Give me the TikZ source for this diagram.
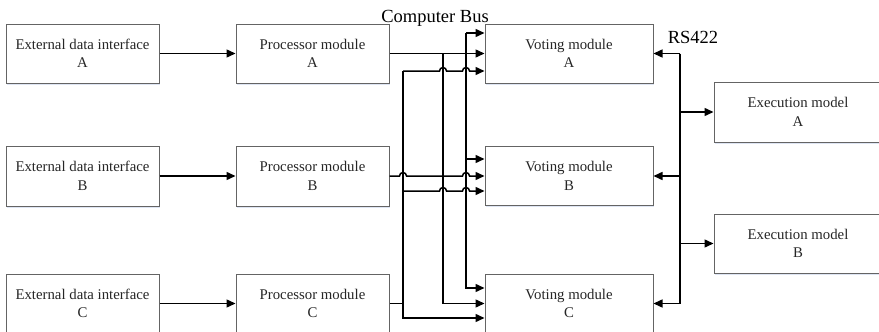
\documentclass[tikz,border=0pt]{standalone}
\usepackage{fontspec}
\setmainfont{Liberation Serif}
\usetikzlibrary{arrows.meta,calc,shadows}
\definecolor{boxgray}{RGB}{100,100,100}
\definecolor{shadowblue}{RGB}{200,212,235}
\begin{document}
\begin{tikzpicture}[x=1pt,y=-1pt,
  box/.style={draw=boxgray, line width=1pt, fill=white, minimum height=59pt, inner sep=0pt,
    align=center, font=\fontsize{14.8}{18.5}\selectfont, text=black!85,
    drop shadow={shadow xshift=1.2pt, shadow yshift=-1.6pt, fill=shadowblue, opacity=0.6}},
  conn/.style={line width=1.5pt, black},
  arr/.style={conn, -{Triangle[length=9pt,width=8pt]}},
  lbl/.style={font=\fontsize{18.5}{20}\selectfont, inner sep=0pt, anchor=base}]
\useasboundingbox (0,0) rectangle (879,332);

% boxes
\node[box, minimum width=153pt] (eA) at (82.5,53.5) {External data interface\\A};
\node[box, minimum width=153pt] (pA) at (312.5,53.5) {Processor module\\A};
\node[box, minimum width=168pt] (vA) at (569,53.5) {Voting module\\A};
\node[box, minimum width=153pt, minimum height=60pt] (eB) at (82.5,176) {External data interface\\B};
\node[box, minimum width=153pt, minimum height=60pt] (pB) at (312.5,176) {Processor module\\B};
\node[box, minimum width=168pt] (vB) at (569,176) {Voting module\\B};
\node[box, minimum width=153pt] (eC) at (82.5,303.5) {External data interface\\C};
\node[box, minimum width=153pt] (pC) at (312.5,303.5) {Processor module\\C};
\node[box, minimum width=168pt] (vC) at (569,303.5) {Voting module\\C};
\node[box, minimum width=168pt, minimum height=60pt] (xA) at (798,112) {Execution model\\A};
\node[box, minimum width=168pt] (xB) at (798,243.5) {Execution model\\B};

% labels
\node[lbl] (bus) at (435,22) {Computer Bus};
\node[lbl] (rs) at (693,43) {RS422};

% bus positions
\coordinate (xc) at (403,0);
\coordinate (xa) at (443,0);
\coordinate (xb) at (466,0);
\coordinate (xr) at (680,0);
\coordinate (yA1) at (0,33);
\coordinate (yA3) at (0,71);
\coordinate (yB1) at (0,159);
\coordinate (yB3) at (0,191);
\coordinate (yC1) at (0,288);
\coordinate (yC3) at (0,318);

% input connections
\draw[arr] (eA) -- (pA);
\draw[arr] (eB) -- (pB);
\draw[arr] (eC) -- (pC);

% bus xb
\draw[arr] (xb |- yA1) -- (vA.west |- yA1);
\draw[arr] (xb |- yA1) -- (xb |- yC1) -- (vC.west |- yC1);
\draw[arr] (xb |- yB1) -- (vB.west |- yB1);

% bus xa (processor A)
\draw[arr] (pA.east -| xa) -- (xa |- vC.west) -- (vC.west);

% bus xc (processor C)
\draw[conn] (pC.east) -- (pC.east -| xc);
\draw[arr] (xc |- yA3) -- (xc |- yC3) -- (vC.west |- yC3);

% processor A direct
\draw[arr] (pA.east) -- (vA.west);

% hopping lines
\draw[arr] (xc |- yA3) -- ($(xa |- yA3)+(-3.5,0)$) arc[start angle=180,end angle=0,radius=3.5pt]
  -- ($(xb |- yA3)+(-3.5,0)$) arc[start angle=180,end angle=0,radius=3.5pt] -- (vA.west |- yA3);
\draw[arr] (xc |- yB3) -- ($(xa |- yB3)+(-3.5,0)$) arc[start angle=180,end angle=0,radius=3.5pt]
  -- ($(xb |- yB3)+(-3.5,0)$) arc[start angle=180,end angle=0,radius=3.5pt] -- (vB.west |- yB3);
\draw[arr] (pB.east) -- ($(pB.east -| xc)+(-3.5,0)$) arc[start angle=180,end angle=0,radius=3.5pt]
  -- ($(pB.east -| xb)+(-3.5,0)$) arc[start angle=180,end angle=0,radius=3.5pt] -- (vB.west);

% RS422 bus
\draw[conn] (xr |- vA.east) -- (xr |- vC.east);
\draw[arr] (xr |- vA.east) -- (vA.east);
\draw[arr] (xr |- vB.east) -- (vB.east);
\draw[arr] (xr |- vC.east) -- (vC.east);
\draw[arr] (xr |- xA.west) -- (xA.west);
\draw[arr] (xr |- xB.west) -- (xB.west);
\end{tikzpicture}
\end{document}
